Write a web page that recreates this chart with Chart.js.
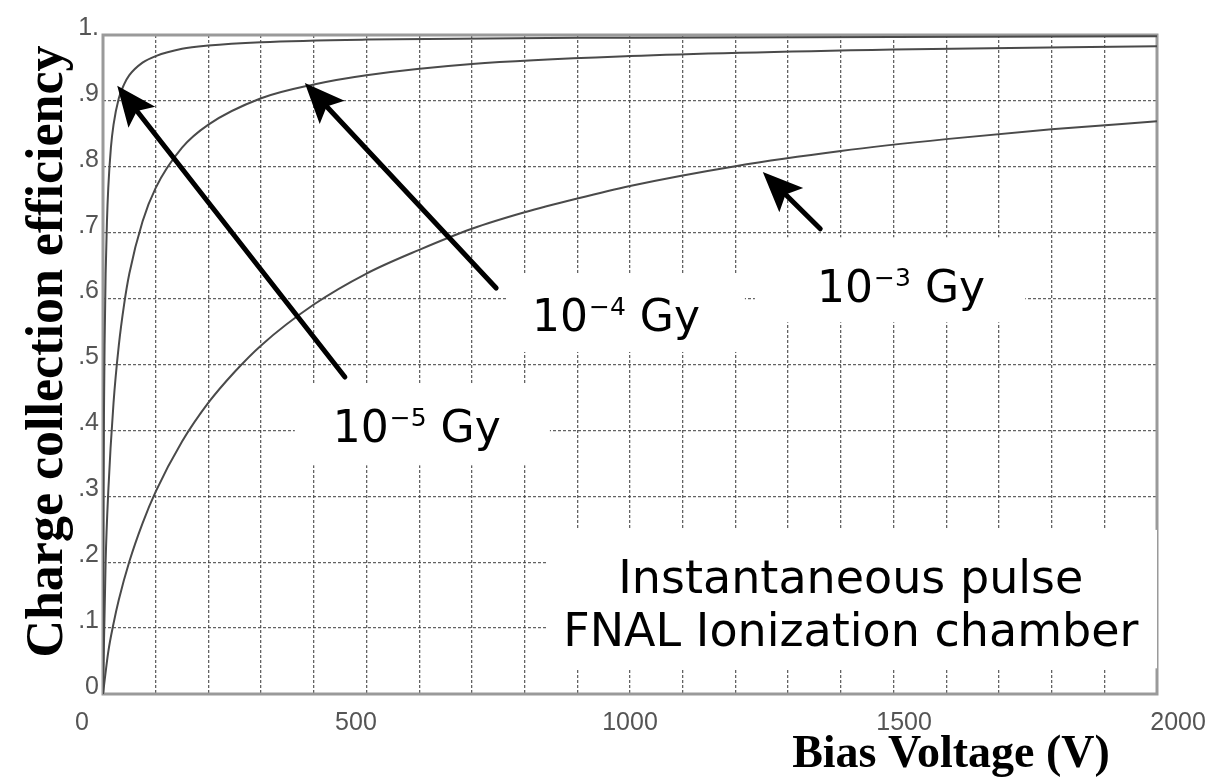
<!DOCTYPE html>
<html>
<head>
<meta charset="utf-8">
<script src="https://cdn.jsdelivr.net/npm/chart.js@4/dist/chart.umd.min.js"></script>
<style>
  html, body { margin: 0; padding: 0; background: #fff; }
  #wrap { width: 1223px; height: 780px; }
</style>
</head>
<body>
<div id="wrap"><canvas id="c" width="1223" height="780"></canvas></div>
<script>
// Tick labels
const xTickLabels = ['0', '500', '1000', '1500', '2000'];
const yTickLabels = ['0', '.1', '.2', '.3', '.4', '.5', '.6', '.7', '.8', '.9', '1.'];

// Dose 1e-5 Gy
const voltsDose5 = [0, 1, 2, 3, 5, 7.5, 10, 15, 20, 30, 40, 50, 75, 100, 150, 200, 300, 500, 1000, 1500, 2000];
const effDose5   = [0, 0.307, 0.442, 0.529, 0.638, 0.717, 0.768, 0.829, 0.864, 0.904, 0.925, 0.939, 0.958, 0.968, 0.979, 0.984, 0.989, 0.993, 0.996, 0.997, 0.998];

// Dose 1e-4 Gy
const voltsDose4 = [0, 5, 10, 20, 30, 40, 50, 75, 100, 150, 200, 300, 400, 500, 700, 1000, 1500, 2000];
const effDose4   = [0, 0.201, 0.307, 0.442, 0.529, 0.591, 0.638, 0.717, 0.768, 0.829, 0.864, 0.904, 0.925, 0.939, 0.956, 0.968, 0.978, 0.983];

// Dose 1e-3 Gy
const voltsDose3 = [0, 10, 20, 30, 50, 75, 100, 150, 200, 250, 300, 400, 500, 600, 700, 800, 900, 1000, 1200, 1400, 1600, 1800, 2000];
const effDose3   = [0, 0.064, 0.107, 0.143, 0.201, 0.259, 0.307, 0.383, 0.442, 0.489, 0.529, 0.591, 0.638, 0.674, 0.706, 0.731, 0.752, 0.771, 0.801, 0.824, 0.842, 0.857, 0.869];

const toPoints = (xs, ys) => xs.map((x, i) => ({ x: x, y: ys[i] }));

// Dose callouts: label boxes, text anchors and arrows in data units (V, efficiency)
const doseNotes = [
  { exp: '\u22125', textAt: [436, 0.382], box: [364, 848, 0.469, 0.347], from: [459, 0.481], to: [27, 0.923] },
  { exp: '\u22124', textAt: [814, 0.551], box: [765, 1218, 0.636, 0.519], from: [746, 0.616], to: [383, 0.927] },
  { exp: '\u22123', textAt: [1355, 0.595], box: [1237, 1750, 0.693, 0.564], from: [1361, 0.706], to: [1252, 0.792] }
];
const noteLines = ['Instantaneous pulse', 'FNAL Ionization chamber'];
const noteBox = [844, 2000, 0.249, 0.039];
const noteCenter = 1419;
const noteBaselines = [0.153, 0.073];

const curveColor = '#4a4a4a';
const tickFont = '25px "Liberation Sans"';
const tickColor = '#555555';

const softPlot = {
  id: 'softPlot',
  beforeDraw(chart) {
    chart.ctx.filter = 'blur(0.6px)';
  },
  beforeDatasetsDraw(chart) {
    const { ctx, chartArea: a } = chart;
    ctx.save();
    ctx.strokeStyle = '#9a9a9a';
    ctx.lineWidth = 3;
    ctx.strokeRect(a.left, a.top, a.right - a.left, a.bottom - a.top);

    // horizontal-axis labels, spread slightly wider than the grid
    const sx = chart.scales.x;
    const mid = (a.left + a.right) / 2;
    ctx.font = tickFont;
    ctx.fillStyle = tickColor;
    ctx.textAlign = 'center';
    ctx.textBaseline = 'middle';
    sx.ticks.forEach(t => {
      if (t.value % 500 !== 0) return;
      const p = sx.getPixelForValue(t.value);
      ctx.fillText(xTickLabels[t.value / 500], mid + (p - mid) * 1.04, a.bottom + 29);
    });
    ctx.restore();
  },
  afterDatasetsDraw(chart) {
    chart.ctx.filter = 'none';
  }
};

const callouts = {
  id: 'callouts',
  afterDraw(chart) {
    const ctx = chart.ctx;
    const sx = chart.scales.x, sy = chart.scales.y;
    const P = (v, f) => [sx.getPixelForValue(v), sy.getPixelForValue(f)];
    ctx.save();
    ctx.filter = 'none';

    const whiteBox = (b) => {
      const [x0, y0] = P(b[0], b[2]);
      const [x1, y1] = P(b[1], b[3]);
      ctx.fillStyle = '#ffffff';
      ctx.fillRect(x0, y0, x1 - x0, y1 - y0);
    };

    doseNotes.forEach(n => whiteBox(n.box));
    whiteBox(noteBox);

    // arrows
    doseNotes.forEach(n => {
      const [tx, ty] = P(n.from[0], n.from[1]);
      const [hx, hy] = P(n.to[0], n.to[1]);
      const dx = hx - tx, dy = hy - ty;
      const len = Math.hypot(dx, dy);
      const ux = dx / len, uy = dy / len;
      const headLen = 40, headHalf = 17, notch = 8;
      const bx = hx - ux * headLen, by = hy - uy * headLen;
      ctx.strokeStyle = '#000';
      ctx.lineWidth = 5;
      ctx.lineCap = 'round';
      ctx.beginPath();
      ctx.moveTo(tx, ty);
      ctx.lineTo(bx + ux * notch, by + uy * notch);
      ctx.stroke();
      ctx.fillStyle = '#000';
      ctx.beginPath();
      ctx.moveTo(hx, hy);
      ctx.lineTo(bx - uy * headHalf, by + ux * headHalf);
      ctx.lineTo(bx + ux * notch, by + uy * notch);
      ctx.lineTo(bx + uy * headHalf, by - ux * headHalf);
      ctx.closePath();
      ctx.fill();
    });

    // dose labels
    ctx.fillStyle = '#000';
    ctx.textAlign = 'left';
    ctx.textBaseline = 'alphabetic';
    doseNotes.forEach(n => {
      const [x, y] = P(n.textAt[0], n.textAt[1]);
      ctx.font = '44px "DejaVu Sans"';
      ctx.fillText('10', x, y);
      let w = ctx.measureText('10').width;
      ctx.font = '25px "DejaVu Sans"';
      ctx.fillText(n.exp, x + w + 1, y - 16);
      w += ctx.measureText(n.exp).width + 1;
      ctx.font = '44px "DejaVu Sans"';
      ctx.fillText(' Gy', x + w, y);
    });

    // description block
    ctx.font = '46px "DejaVu Sans"';
    ctx.textAlign = 'center';
    noteLines.forEach((t, i) => {
      const [x, y] = P(noteCenter, noteBaselines[i]);
      ctx.fillText(t, x, y);
    });

    // axis titles
    const a = chart.chartArea;
    ctx.font = 'bold 46px "Liberation Serif"';
    ctx.textAlign = 'center';
    ctx.fillText('Bias Voltage (V)', a.right - 206, a.bottom + 73);
    ctx.save();
    ctx.translate(a.left - 41, (a.top + a.bottom) / 2 - 13);
    ctx.rotate(-Math.PI / 2);
    ctx.font = 'bold 52px "Liberation Serif"';
    ctx.fillText('Charge collection efficiency', 0, 0);
    ctx.restore();

    ctx.restore();
  }
};

const lineStyle = {
  borderColor: curveColor,
  borderWidth: 2,
  pointRadius: 0,
  fill: false,
  showLine: true,
  cubicInterpolationMode: 'monotone'
};

new Chart(document.getElementById('c'), {
  type: 'scatter',
  data: {
    datasets: [
      Object.assign({ label: '1e-5 Gy', data: toPoints(voltsDose5, effDose5) }, lineStyle),
      Object.assign({ label: '1e-4 Gy', data: toPoints(voltsDose4, effDose4) }, lineStyle),
      Object.assign({ label: '1e-3 Gy', data: toPoints(voltsDose3, effDose3) }, lineStyle)
    ]
  },
  options: {
    responsive: false,
    animation: false,
    events: [],
    layout: { padding: { top: 35, right: 66, left: 0, bottom: 0 } },
    plugins: { legend: { display: false }, tooltip: { enabled: false } },
    scales: {
      x: {
        type: 'linear',
        min: 0, max: 2000,
        afterFit(s) { s.height = 86; },
        grid: { color: 'rgba(60,60,60,0.8)', lineWidth: 1.3, drawTicks: false },
        border: { display: false, dash: [3, 2] },
        ticks: {
          stepSize: 100,
          autoSkip: false,
          maxRotation: 0,
          display: false
        }
      },
      y: {
        type: 'linear',
        min: 0, max: 1,
        afterFit(s) { s.width = 103; },
        grid: { color: 'rgba(60,60,60,0.8)', lineWidth: 1.3, drawTicks: false },
        border: { display: false, dash: [3, 2] },
        ticks: {
          stepSize: 0.1,
          padding: 4,
          labelOffset: -7,
          color: tickColor,
          font: { family: 'Liberation Sans', size: 25 },
          callback: (v) => yTickLabels[Math.round(v * 10)]
        }
      }
    }
  },
  plugins: [softPlot, callouts]
});
</script>
</body>
</html>
